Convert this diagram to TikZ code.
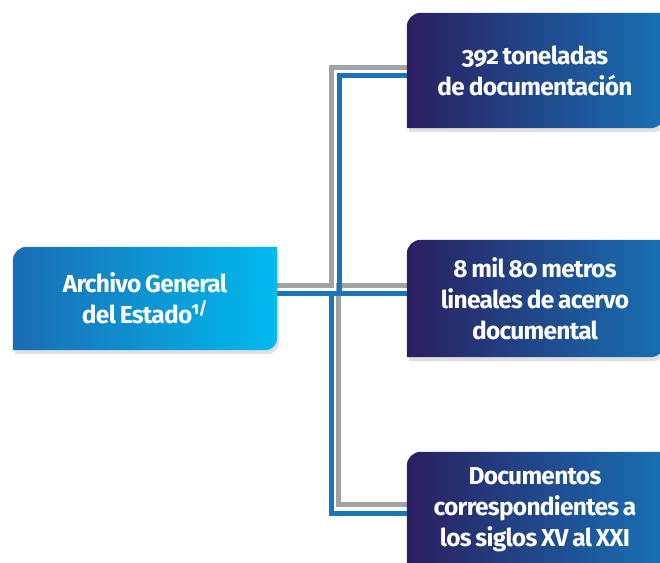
\documentclass[tikz,border=0pt]{standalone}
\usepackage{fontspec}
\setmainfont{Fira Sans}[LetterSpace=-3, WordSpace=0.75, RawFeature=+onum]
\usetikzlibrary{backgrounds, shadows}
\definecolor{archleft}{RGB}{27,108,180}
\definecolor{archright}{RGB}{0,186,238}
\definecolor{datleft}{RGB}{42,31,96}
\definecolor{datright}{RGB}{24,112,180}
\definecolor{linegray}{RGB}{160,162,165}
\definecolor{lineblue}{RGB}{27,117,187}

\begin{document}
\begin{tikzpicture}[x=1pt, y=1pt,
	card/.style={text=white, font=\bfseries\fontsize{24.5}{31}\selectfont, align=center, inner sep=0pt, minimum width=256pt},
	grayline/.style={draw=linegray, line width=5pt},
	blueline/.style={draw=lineblue, line width=5pt},
	tab/.style={drop shadow={opacity=0.25, shadow xshift=2pt, shadow yshift=-4pt}}]
	\useasboundingbox (0,0) rectangle (660,562);
	\clip (0,0) rectangle (660,562);

	\node[card, minimum width=264pt, minimum height=103pt] (archivo) at (145,263.5) {
		Archivo General\\del Estado\textsuperscript{\kern-1pt 1/}
	};

	\node[card, minimum height=117pt, right of=archivo, node distance=390pt] (metros) {
		8 mil 80 metros\\lineales de acervo\\documental
	};

	\node[card, minimum height=115pt, above of=metros, node distance=228pt] (tons) {
		392 toneladas\\de documentación
	};

	\node[card, minimum height=116pt, below of=metros, node distance=211.5pt] (docs) {
		Documentos\\correspondientes a\\los siglos XV al XXI
	};

	\begin{scope}[on background layer]
		\draw[grayline] ([yshift=12.5pt]archivo.east) -| ([xshift=-75pt,yshift=2.5pt]tons.west) -- ([yshift=2.5pt]tons.west);
		\draw[grayline] ([yshift=12.5pt]metros.west) -| ([xshift=-68pt,yshift=6pt]docs.west) -- ([yshift=6pt]docs.west);
		\draw[blueline] ([yshift=4.5pt]archivo.east) -- ([yshift=4.5pt]metros.west);
		\draw[blueline] ([yshift=-5.5pt]tons.west) -| ([xshift=-67pt,yshift=4.5pt]metros.west);
		\draw[blueline] ([yshift=-3pt]docs.west) -| ([xshift=-75pt,yshift=4.5pt]metros.west);

		\foreach \n/\ca/\cb in {archivo/archleft/archright, tons/datleft/datright, metros/datleft/datright, docs/datleft/datright}
			\shade[tab, left color=\ca, right color=\cb] (\n.south west) -- ([yshift=-14pt]\n.north west)
				arc[start angle=180, end angle=90, radius=14pt] -- (\n.north east) -- ([yshift=12pt]\n.south east)
				arc[start angle=0, end angle=-90, radius=12pt] -- cycle;
	\end{scope}
\end{tikzpicture}
\end{document}
